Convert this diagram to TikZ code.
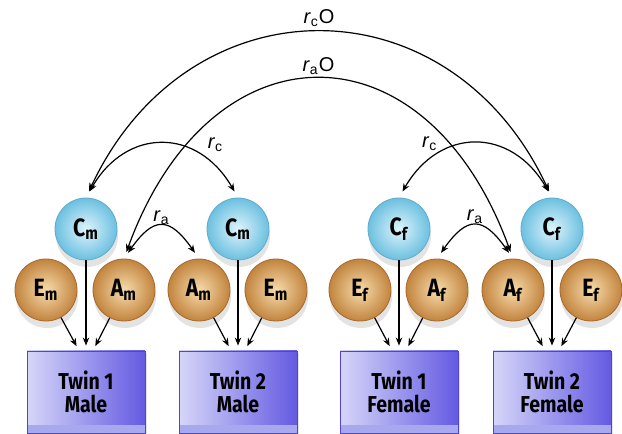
\documentclass[tikz,border=0pt]{standalone}
\usepackage{fontspec}
\setsansfont{Fira Sans}[FakeStretch=0.85]
\newfontfamily\etiqfont{Liberation Sans}
\usetikzlibrary{arrows.meta, positioning, shadows}
\definecolor{cianClaro}{RGB}{222,244,252}
\definecolor{cianOscuro}{RGB}{108,192,224}
\definecolor{cianBorde}{RGB}{96,172,204}
\definecolor{ocreClaro}{RGB}{247,220,172}
\definecolor{ocreOscuro}{RGB}{194,132,62}
\definecolor{ocreBorde}{RGB}{165,105,45}
\definecolor{lilaClaro}{RGB}{214,214,249}
\definecolor{lilaOscuro}{RGB}{100,90,226}
\definecolor{lilaBorde}{RGB}{80,68,212}
\definecolor{lilaBase}{RGB}{168,168,238}

\begin{document}
\begin{tikzpicture}[x=0.5pt, y=0.5pt, on grid,
  comp/.style={circle, minimum size=31pt, inner sep=0pt,
    font=\sffamily\bfseries\fontsize{12.5}{14}\selectfont,
    drop shadow={shadow xshift=0.5pt, shadow yshift=-3.5pt, opacity=0.22}},
  compC/.style={comp, inner color=cianClaro, outer color=cianOscuro, draw=cianBorde},
  compAE/.style={comp, inner color=ocreClaro, outer color=ocreOscuro, draw=ocreBorde},
  caja/.style={rectangle, minimum width=59pt, minimum height=41pt, align=center,
    left color=lilaClaro, right color=lilaOscuro, draw=lilaBorde, line width=0.4pt,
    font=\sffamily\bfseries\fontsize{11.5}{11.5}\selectfont,
    path picture={\fill[lilaBase] (path picture bounding box.south west)
      rectangle ([yshift=4pt]path picture bounding box.south east);},
    drop shadow={shadow xshift=1pt, shadow yshift=-1pt, opacity=0.2}},
  flecha/.style={-{Stealth[length=4pt, width=3.2pt]}, line width=0.6pt, shorten >=2.5pt},
  flechaDoble/.style={{Stealth[length=4pt, width=3.2pt]}-{Stealth[length=4pt, width=3.2pt]},
    line width=0.6pt, shorten <=3.5pt, shorten >=3.5pt},
  etiqueta/.style={font=\etiqfont\fontsize{10}{11}\selectfont, inner sep=1pt}
]
  \useasboundingbox (0,0) rectangle (622,434);

  \node[compC] (cm1) at (86,205) {C\textsubscript{m}};
  \node[compC, right=76pt of cm1] (cm2) {C\textsubscript{m}};
  \node[compC, right=80.5pt of cm2] (cf1) {C\textsubscript{f}};
  \node[compC, right=76.5pt of cf1] (cf2) {C\textsubscript{f}};

  \node[compAE, below left=30.5pt and 20pt of cm1] (em1) {E\textsubscript{m}};
  \node[compAE, below right=30.5pt and 19pt of cm1] (am1) {A\textsubscript{m}};
  \node[compAE, below left=30.5pt and 19.5pt of cm2] (am2) {A\textsubscript{m}};
  \node[compAE, below right=30.5pt and 19pt of cm2] (em2) {E\textsubscript{m}};
  \node[compAE, below left=30.5pt and 19.5pt of cf1] (ef1) {E\textsubscript{f}};
  \node[compAE, below right=30.5pt and 19pt of cf1] (af1) {A\textsubscript{f}};
  \node[compAE, below left=30.5pt and 19.5pt of cf2] (af2) {A\textsubscript{f}};
  \node[compAE, below right=30.5pt and 19.5pt of cf2] (ef2) {E\textsubscript{f}};

  \node[caja, below=81.5pt of cm1] (twinM1) {Twin 1\\Male};
  \node[caja, below=81.5pt of cm2] (twinM2) {Twin 2\\Male};
  \node[caja, below=81.5pt of cf1] (twinF1) {Twin 1\\Female};
  \node[caja, below=81.5pt of cf2] (twinF2) {Twin 2\\Female};

  \draw[flecha] (em1) -- ([xshift=-3.5pt]twinM1.north);
  \draw[flecha] (cm1) -- (cm1 |- twinM1.north);
  \draw[flecha] (am1) -- ([xshift=3.5pt]twinM1.north);
  \draw[flecha] (am2) -- ([xshift=-3.5pt]twinM2.north);
  \draw[flecha] (cm2) -- (cm2 |- twinM2.north);
  \draw[flecha] (em2) -- ([xshift=3.5pt]twinM2.north);
  \draw[flecha] (ef1) -- ([xshift=-3.5pt]twinF1.north);
  \draw[flecha] (cf1) -- (cf1 |- twinF1.north);
  \draw[flecha] (af1) -- ([xshift=3.5pt]twinF1.north);
  \draw[flecha] (af2) -- ([xshift=-3.5pt]twinF2.north);
  \draw[flecha] (cf2) -- (cf2 |- twinF2.north);
  \draw[flecha] (ef2) -- ([xshift=3.5pt]twinF2.north);

  \draw[flechaDoble] (cm1.north) to[out=65, in=115, looseness=1.33]
    node[etiqueta, midway, above=2pt] (rcO) {\textit{r}\textsubscript{c}O} (cf2.north);
  \draw[flechaDoble] (am1.north) to[out=70, in=110, looseness=1.67]
    node[etiqueta, midway, above=1.5pt] (raO) {\textit{r}\textsubscript{a}O} (af2.north);
  \draw[flechaDoble] (cm1.north) to[out=60, in=120, looseness=1.37]
    node[etiqueta, pos=0.8, above=5pt, xshift=2.5pt] (rc1) {\textit{r}\textsubscript{c}} (cm2.north);
  \draw[flechaDoble] (cf1.north) to[out=60, in=120, looseness=1.37]
    node[etiqueta, pos=0.2, above=5pt, xshift=1.5pt] (rc2) {\textit{r}\textsubscript{c}} (cf2.north);
  \draw[flechaDoble] (am1.north) to[out=55, in=125, looseness=1.77]
    node[etiqueta, midway, above=0pt] (ra1) {\textit{r}\textsubscript{a}} (am2.north);
  \draw[flechaDoble] (af1.north) to[out=55, in=125, looseness=1.77]
    node[etiqueta, midway, above=0pt] (ra2) {\textit{r}\textsubscript{a}} (af2.north);
\end{tikzpicture}
\end{document}
